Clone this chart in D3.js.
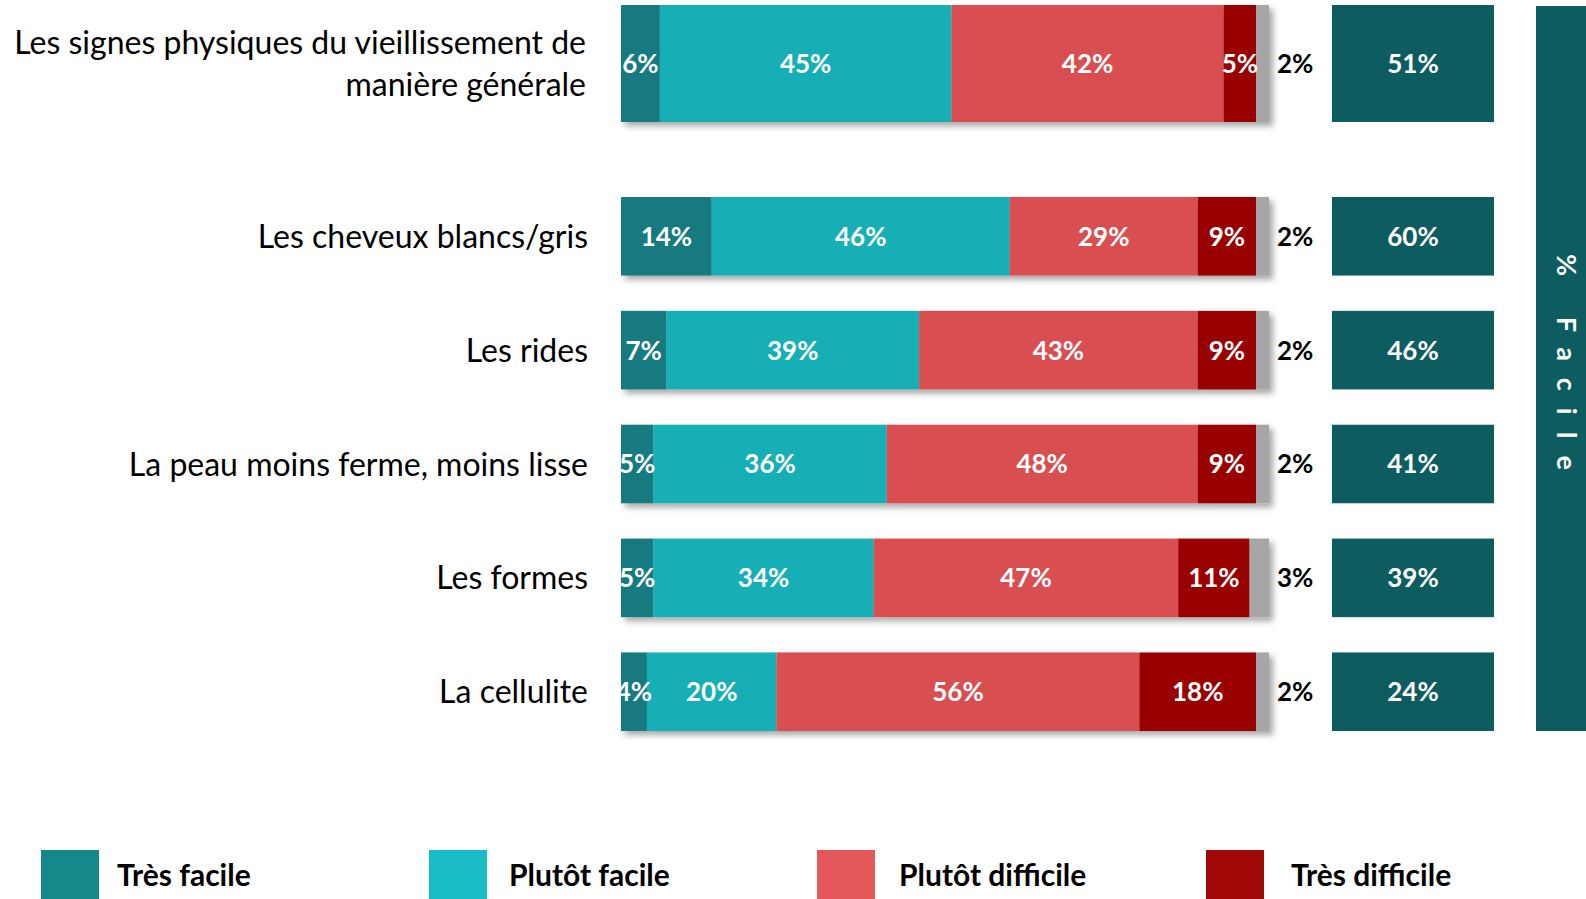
<!DOCTYPE html>
<html>
<head>
<meta charset="utf-8">
<script src="https://cdn.jsdelivr.net/npm/d3@7"></script>
<style>
  body { margin: 0; background: #fff; }
  svg { display: block; font-family: Lato, "Open Sans", sans-serif; }
</style>
</head>
<body>
<div id="chart"></div>
<script>
// données
const categories = [
  "Les signes physiques du vieillissement de manière générale",
  "Les cheveux blancs/gris",
  "Les rides",
  "La peau moins ferme, moins lisse",
  "Les formes",
  "La cellulite"
];
const seriesNames = ["Très facile", "Plutôt facile", "Plutôt difficile", "Très difficile"];
const tresFacile      = [6, 14, 7, 5, 5, 4];
const plutotFacile    = [45, 46, 39, 36, 34, 20];
const plutotDifficile = [42, 29, 43, 48, 47, 56];
const tresDifficile   = [5, 9, 9, 9, 11, 18];
const nsp             = [2, 2, 2, 2, 3, 2];
const totalFacile     = [51, 60, 46, 41, 39, 24];

const barColors    = ["#127a80", "#13afb6", "#d94f51", "#990000"];
const legendColors = ["#15888c", "#19bbc4", "#e5585a", "#a00808"];
const grey = "#a6a6a6";
const dark = "#0d5c5f";

const W = 1586, H = 899;

const rows = categories.map((c, i) => ({
  cat: c,
  "Très facile": tresFacile[i],
  "Plutôt facile": plutotFacile[i],
  "Plutôt difficile": plutotDifficile[i],
  "Très difficile": tresDifficile[i],
  nsp: nsp[i],
  total: totalFacile[i]
}));

const keys = seriesNames.concat(["nsp"]);
const stacked = d3.stack().keys(keys)(rows);

const svg = d3.select("#chart").append("svg")
  .attr("width", W).attr("height", H);

const defs = svg.append("defs");
const f = defs.append("filter").attr("id", "shadow")
  .attr("x", "-5%").attr("y", "-20%").attr("width", "115%").attr("height", "150%");
f.append("feDropShadow").attr("dx", 4).attr("dy", 4).attr("stdDeviation", 3)
  .attr("flood-color", "#000").attr("flood-opacity", 0.35);

const x = d3.scaleLinear().domain([0, 100]).range([621, 1269]);

// 1re ligne plus haute, les 5 autres régulières
const yFirst = d3.scaleBand().domain([categories[0]]).range([5, 122]);
const yRest = d3.scaleBand().domain(categories.slice(1)).range([197, 731])
  .paddingInner(0.31).paddingOuter(0);
const yTop = c => c === categories[0] ? yFirst(c) : yRest(c);
const yH = c => c === categories[0] ? yFirst.bandwidth() : yRest.bandwidth();
const yMid = c => yTop(c) + yH(c) / 2;

defs.append("clipPath").attr("id", "barclip")
  .append("rect").attr("x", x(0)).attr("y", 0).attr("width", x(100) - x(0) + 20).attr("height", H);

// barres empilées avec ombre
const barG = svg.append("g");
rows.forEach((r, i) => {
  const g = barG.append("g").attr("filter", "url(#shadow)");
  stacked.forEach((s, k) => {
    const d = s[i];
    g.append("rect")
      .attr("x", x(d[0]))
      .attr("y", yTop(r.cat))
      .attr("width", x(d[1]) - x(d[0]))
      .attr("height", yH(r.cat))
      .attr("fill", k < 4 ? barColors[k] : grey);
  });
});

// étiquettes des segments
const lab = svg.append("g").attr("clip-path", "url(#barclip)");
stacked.slice(0, 4).forEach(s => {
  lab.selectAll(null).data(s).enter().append("text")
    .attr("x", d => (x(d[0]) + x(d[1])) / 2)
    .attr("y", d => yMid(d.data.cat))
    .attr("dy", "0.36em")
    .attr("text-anchor", "middle")
    .attr("fill", "#fff")
    .style("font-weight", 700)
    .style("font-size", "26px")
    .text(d => (d[1] - d[0]) + "%");
});

// NSP à droite de la barre
svg.append("g").selectAll("text").data(rows).enter().append("text")
  .attr("x", x(100) + 8)
  .attr("y", d => yMid(d.cat))
  .attr("dy", "0.36em")
  .style("font-weight", 700)
  .style("font-size", "26px")
  .attr("fill", "#000")
  .text(d => d.nsp + "%");

// cases % facile
const boxX0 = 1332, boxX1 = 1494;
const boxes = svg.append("g");
boxes.selectAll("rect").data(rows).enter().append("rect")
  .attr("x", boxX0).attr("y", d => yTop(d.cat))
  .attr("width", boxX1 - boxX0).attr("height", d => yH(d.cat))
  .attr("fill", dark);
boxes.selectAll("text").data(rows).enter().append("text")
  .attr("x", (boxX0 + boxX1) / 2)
  .attr("y", d => yMid(d.cat))
  .attr("dy", "0.36em")
  .attr("text-anchor", "middle")
  .attr("fill", "#fff")
  .style("font-weight", 700)
  .style("font-size", "26px")
  .text(d => d.total + "%");

// bandeau vertical
svg.append("rect").attr("x", 1536).attr("y", 6).attr("width", 60).attr("height", 725).attr("fill", dark);
svg.append("text")
  .attr("transform", "translate(1557,254) rotate(90)")
  .attr("fill", "#fff")
  .style("font-weight", 700)
  .style("font-size", "27px")
  .style("letter-spacing", "17px")
  .text("% Facile");

// libellés des catégories
const catG = svg.append("g");
rows.forEach((r, i) => {
  const lines = i === 0 ? ["Les signes physiques du vieillissement de", "manière générale"] : [r.cat];
  const t = catG.append("text")
    .attr("text-anchor", "end")
    .attr("fill", "#000")
    .style("font-size", "32px");
  lines.forEach((ln, j) => {
    t.append("tspan")
      .attr("x", i === 0 ? 586 : 588)
      .attr("y", yMid(r.cat) + (j - (lines.length - 1) / 2) * 42.5)
      .attr("dy", "0.36em")
      .text(ln);
  });
});

// légende
const legX = [41, 429, 817, 1206];
const legTextX = [117, 509, 899, 1291];
const leg = svg.append("g");
seriesNames.forEach((n, i) => {
  leg.append("rect").attr("x", legX[i]).attr("y", 850).attr("width", 58).attr("height", 60)
    .attr("fill", legendColors[i]);
  leg.append("text").attr("x", legTextX[i]).attr("y", 875).attr("dy", "0.36em")
    .style("font-weight", 700).style("font-size", "30px").attr("fill", "#000")
    .text(n);
});
</script>
</body>
</html>
